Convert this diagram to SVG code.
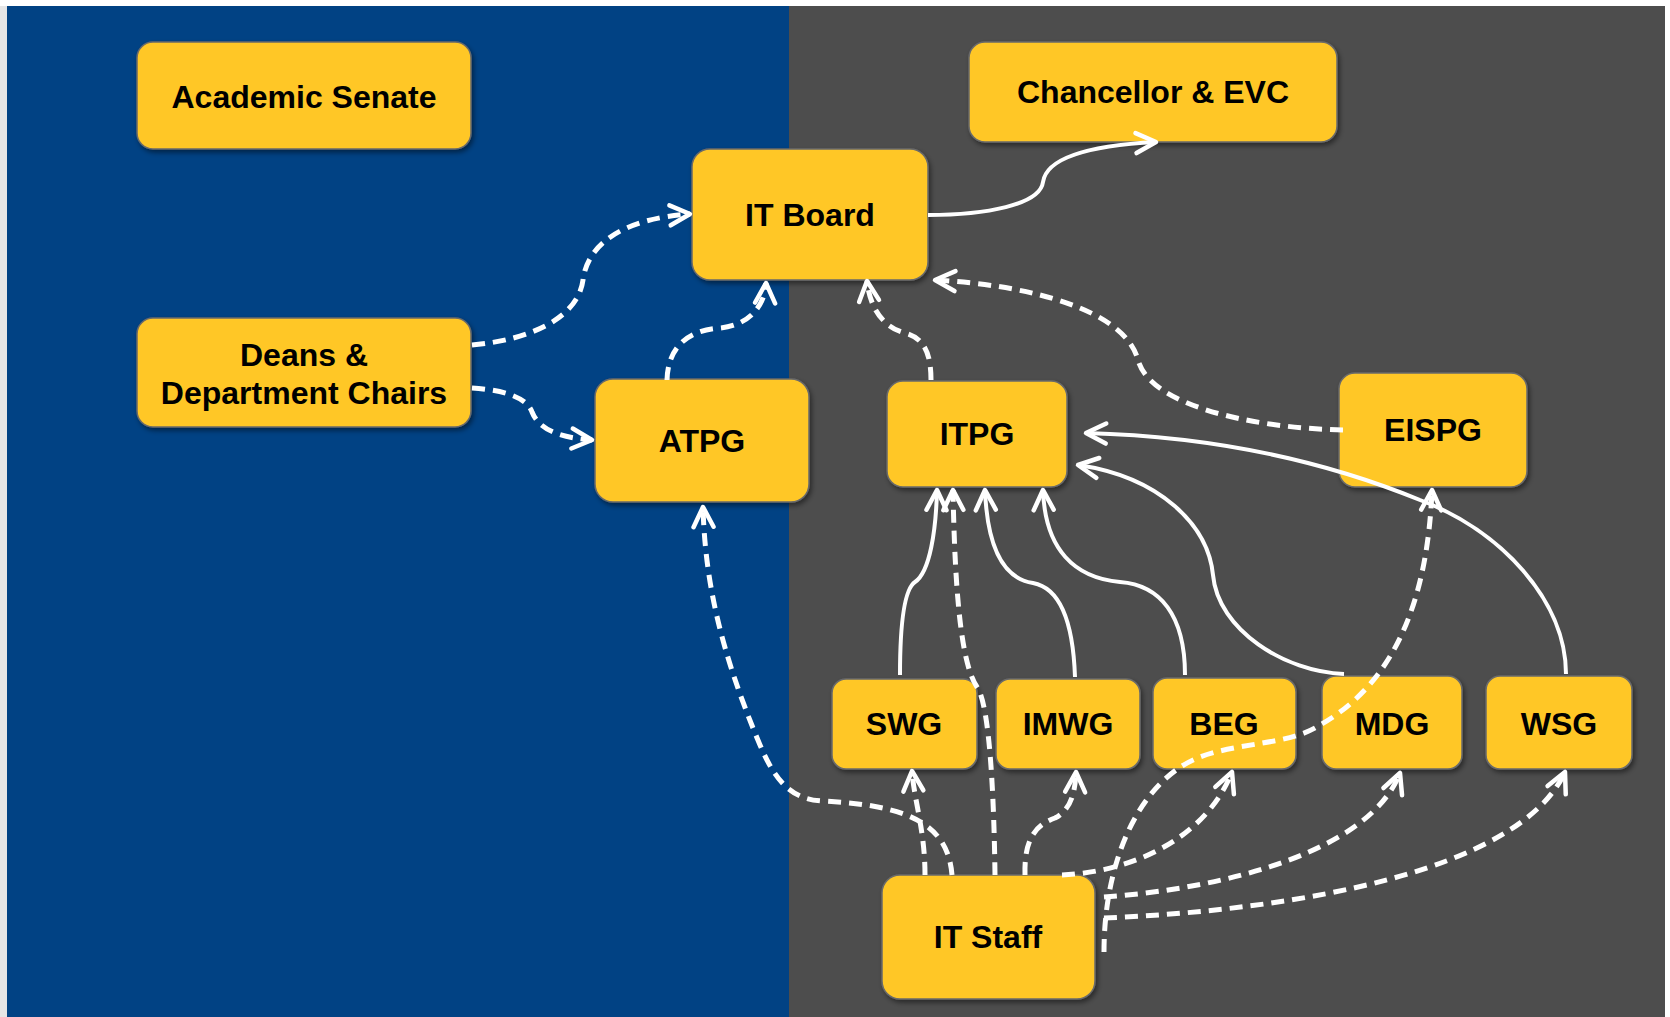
<svg xmlns="http://www.w3.org/2000/svg" width="1670" height="1017" viewBox="0 0 1670 1017">
  <defs>
    <filter id="sh" x="-10%" y="-10%" width="120%" height="130%">
      <feDropShadow dx="2" dy="3" stdDeviation="2.5" flood-color="#000" flood-opacity="0.45"/>
    </filter>
    <marker id="ah" markerUnits="userSpaceOnUse" viewBox="-26 -14 30 28" markerWidth="30" markerHeight="28" refX="0" refY="0" orient="auto">
      <path d="M-20,-10 L0,0 L-20,10" fill="none" stroke="#fff" stroke-width="4.5" stroke-linecap="round" stroke-linejoin="round"/>
    </marker>
  </defs>
  <style>
    .box { fill: #FFC726; stroke: #6a6a6a; stroke-width: 1.5; filter: url(#sh); }
    .lbl { font-family: "Liberation Sans", Arial, sans-serif; font-weight: bold; font-size: 32px; fill: #000; text-anchor: middle; }
    .c { fill: none; stroke: #fff; stroke-width: 4; marker-end: url(#ah); }
    .d { stroke-width: 5; stroke-dasharray: 13 8; }
  </style>
  <rect x="0" y="0" width="1670" height="1017" fill="#ffffff"/>
  <rect x="0" y="6" width="7" height="1011" fill="#e6e6e6"/>
  <rect x="7" y="6" width="782" height="1011" fill="#014284"/>
  <rect x="789" y="6" width="876" height="1011" fill="#4d4d4d"/>

  <g id="academic-senate"><rect class="box" x="137" y="42" width="334" height="107" rx="16"/><text class="lbl" x="304" y="108">Academic Senate</text></g>
  <g id="chancellor-evc"><rect class="box" x="969" y="42" width="368" height="100" rx="16"/><text class="lbl" x="1153" y="103">Chancellor &amp; EVC</text></g>
  <g id="it-board"><rect class="box" x="692" y="149" width="236" height="131" rx="18"/><text class="lbl" x="810" y="226">IT Board</text></g>
  <g id="deans"><rect class="box" x="137" y="318" width="334" height="109" rx="16"/><text class="lbl" x="304" y="366">Deans &amp;</text><text class="lbl" x="304" y="404">Department Chairs</text></g>
  <g id="atpg"><rect class="box" x="595" y="379" width="214" height="123" rx="18"/><text class="lbl" x="702" y="452">ATPG</text></g>
  <g id="itpg"><rect class="box" x="887" y="381" width="180" height="106" rx="16"/><text class="lbl" x="977" y="445">ITPG</text></g>
  <g id="eispg"><rect class="box" x="1339" y="373" width="188" height="114" rx="16"/><text class="lbl" x="1433" y="441">EISPG</text></g>
  <g id="swg"><rect class="box" x="832" y="679" width="145" height="90" rx="14"/><text class="lbl" x="904" y="735">SWG</text></g>
  <g id="imwg"><rect class="box" x="996" y="679" width="144" height="90" rx="14"/><text class="lbl" x="1068" y="735">IMWG</text></g>
  <g id="beg"><rect class="box" x="1153" y="678" width="143" height="91" rx="14"/><text class="lbl" x="1224" y="735">BEG</text></g>
  <g id="mdg"><rect class="box" x="1322" y="676" width="140" height="93" rx="14"/><text class="lbl" x="1392" y="735">MDG</text></g>
  <g id="wsg"><rect class="box" x="1486" y="676" width="146" height="93" rx="14"/><text class="lbl" x="1559" y="735">WSG</text></g>
  <g id="it-staff"><rect class="box" x="882" y="875" width="213" height="124" rx="18"/><text class="lbl" x="988" y="948">IT Staff</text></g>

  <g id="connectors">
    <path class="c" d="M928,215 C985,215 1040,205 1043,182 C1047,155 1100,145 1156,142"/>
    <path class="c d" d="M472,345 C530,340 578,318 583,280 C588,240 630,218 690,214"/>
    <path class="c d" d="M472,388 C505,390 527,398 532,412 C540,432 565,438 592,440"/>
    <path class="c d" d="M667,380 C668,345 690,330 720,328 C750,325 765,305 766,283"/>
    <path class="c d" d="M931,380 C931,355 925,338 905,333 C885,328 870,310 867,281"/>
    <path class="c d" d="M1343,430 C1250,428 1150,405 1138,360 C1125,310 1030,285 935,280"/>
    <path class="c" d="M900,675 C900,630 903,590 915,582 C930,572 936,530 937,490"/>
    <path class="c d" d="M995,875 C994,800 990,705 977,687 C962,665 955,600 953,490"/>
    <path class="c" d="M1075,677 C1073,620 1060,588 1033,583 C1000,578 987,540 985,490"/>
    <path class="c" d="M1185,675 C1185,615 1160,585 1120,582 C1075,578 1045,550 1043,490"/>
    <path class="c" d="M1344,674 C1285,672 1218,630 1213,575 C1208,525 1160,477 1078,465"/>
    <path class="c" d="M1566,674 C1566,600 1500,530 1420,500 C1310,455 1200,436 1086,433"/>
    <path class="c d" d="M952,875 C948,825 910,805 822,801 C790,799 775,780 760,745 C720,650 705,580 703,507"/>
    <path class="c d" d="M925,875 C925,830 914,800 912,771"/>
    <path class="c d" d="M1025,875 C1024,840 1035,825 1055,818 C1070,810 1075,795 1076,772"/>
    <path class="c d" d="M1062,875 C1130,872 1205,840 1232,772"/>
    <path class="c d" d="M1104,897 C1230,888 1370,850 1400,773"/>
    <path class="c d" d="M1104,918 C1300,910 1520,870 1565,772"/>
    <path class="c d" d="M1104,952 C1104,860 1140,780 1200,757 C1240,742 1290,745 1320,725 C1400,680 1428,590 1432,490"/>
  </g>
</svg>
